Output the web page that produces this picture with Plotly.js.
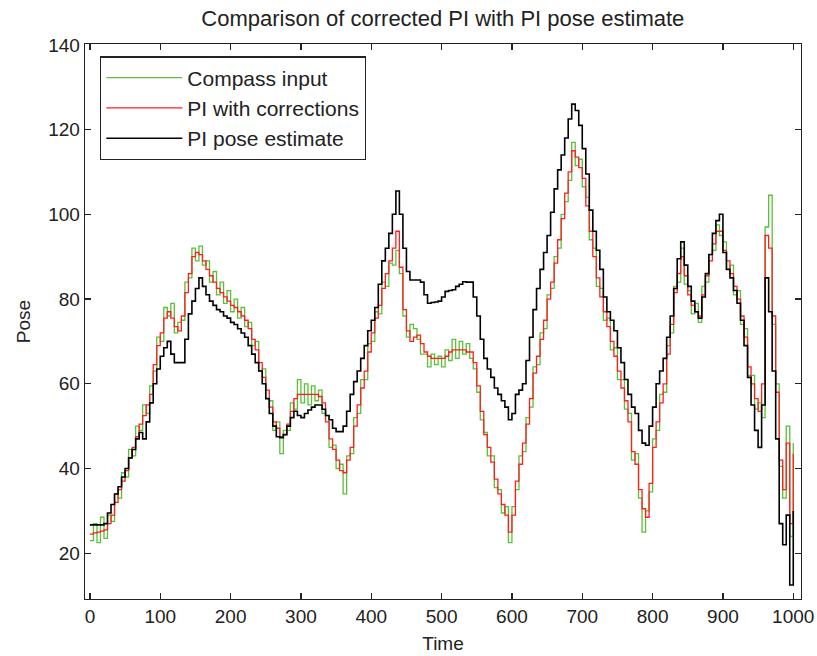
<!DOCTYPE html>
<html>
<head>
<meta charset="utf-8">
<script src="https://cdn.plot.ly/plotly-3.0.1.min.js"></script>
<style>html,body{margin:0;padding:0;background:#fff;}#chart{width:817px;height:656px;}</style>
</head>
<body>
<div id="chart"></div>
<script>
// time samples (every 5 time units)
const time = [];
for (let t = 0; t <= 1000; t += 5) time.push(t);

const compassInput = [
23,27,22.5,28.5,23.5,29,27.5,34,33,39,38,44.5,43,50,49,55,53,59.5,63,71,
70,78,76,79,72,74.5,75,84,85,92,89,92.5,88,89,84,86.5,81,84,79,82,
77,80,75.5,78,73.5,74.5,69,70,63,63.5,56.5,56,49,51,43.5,49,49,55.5,54,61,
55.5,60,55,59.5,56,58.5,53,52.5,45,45.5,40,41,34,43,43.5,52,53,61,61,69.5,
70,77,76.5,84,83,88.5,88,91.5,86,76,71,74,73,70.5,67,67,64,67,64.5,66.5,
64,68,65.5,70.5,66,70,67,69.5,66,63.5,58,51.5,48.5,43,43,35.5,35,29.5,31,22.5,
31,35,43,44,52,54.5,64,64.5,72,73,81,82.5,90,92,100,103,108,117,111.5,113,
106.5,104,94,92,83,82.5,75,75.5,68,68.5,61,61,54,53,42,43.5,33,25,30,34.5,
47,49,57.5,58,69,72,83,84,92,83.5,82,76.5,79,74.5,83,84,90.5,91.5,97.5,95,
93.5,87,88,81,82,74,73,62,62,54,55.5,52,97,104.5,74,60,40.5,33,50,24,
46
];

const piCorrected = [
24.5,24.8,25,25.2,25.5,27,29,32,35,37,39.5,42.5,45,47.5,50.5,52.5,55,57.5,64.5,69,
72,75.5,77,75.5,73.5,72.5,76,81.5,86,90,91,90.5,89,87,85.5,84,82.5,81.5,80.5,79.5,
78.5,78,77,76,75,73,70.5,68,65,61.5,58.5,54.5,51,49.5,47.5,48,50.5,53.5,56.5,57.5,
57.5,57.5,57.5,57.5,57.5,57,55.5,51,47,44.5,42,39.5,39,42,45,50,55,59,63,67.5,
72,75.5,78.5,82.5,86,89,92,96,87.5,77.5,72.5,70,71,71.5,69.5,67.5,66.5,66,66,66,
66,66.5,67.5,68,68,68,68,67.5,67.5,65,59.5,53.5,48,45,41.5,37.5,34,31.5,29,25,
29,37,41,46,50.5,56.5,62.5,66.5,70.5,75,80,84,88.5,94,99,105,110,115,113.5,111,
108.5,102,96,90,85,80.5,77,73.5,70,66.5,63,59,56,51,44,41,35,30.5,28.5,36.5,
45,51,55.5,60,67,74,81.5,86,90,85.5,81,78.5,77,76,81,85.5,89,93,96,96,
91.5,89,86,83,80,76,71,64,60,56.5,53.5,60,95,92,76,58,42,35,46,27,
43.5
];

const piPose = [
26.7,26.7,26.7,26.7,27,29.5,31.5,34,35.7,38,40,42.5,44.5,47,48.5,47,51,55.5,60,63.5,
66.5,68.5,70,67,65,65,65,70.5,76.5,79.5,82.5,85,83,81,79.5,78.5,77.5,77,76,75.5,
74.5,74,73,72,71,69,67,65,63,60,56.5,53,50,47.5,47.3,48,50,52,53.5,52.5,
52,53,53.8,54.5,55,55,54,52.5,51.5,49.5,48.7,48.7,50,53.5,57.5,60.5,63,66,69,72.5,
75,78,83.5,89,92,95.5,100,105.5,100,92,86.5,84.5,84.5,84.5,84,81,79,79.2,79.3,79.5,
80.5,81.8,82,82.2,83,83.5,84.1,84,84,80.5,76,70.5,66,63.5,61.5,59,57.5,56,54.5,51.5,
53,57.5,58.5,60,65.5,71,77.5,82.5,87,91,95,100.5,106,110.5,114,118,122.5,126,124.5,121,
115.5,109.5,101,96,91.5,87,80.5,77,75,72.5,68.5,65,61,57.5,54.5,53,49,46,45.5,50,
54.5,60,63,66,71,76,82.5,89.5,93.5,88,83,79.5,77,75.5,80.5,86,90.5,95.5,98.5,100,
91,87,85,82,79,75,69,61.5,55,49,45,55,85,77,63,47,27,22,29,12.5,
30
];

const seriesNames = ['Compass input', 'PI with corrections', 'PI pose estimate'];
const xTicks = [0,100,200,300,400,500,600,700,800,900,1000];
const yTicks = [20,40,60,80,100,120,140];

const fontFam = '"Liberation Sans", Arial, sans-serif';

const traces = [
  {x: time, y: compassInput, name: seriesNames[0], type: 'scatter', mode: 'lines',
   line: {color: '#5cbf3a', width: 1.3, shape: 'hv'}, legendgroup: 'a'},
  {x: time, y: piCorrected, name: seriesNames[1], type: 'scatter', mode: 'lines',
   line: {color: '#ff1f1f', width: 1.3, shape: 'hv'}, legendgroup: 'b'},
  {x: time, y: piPose, name: seriesNames[2], type: 'scatter', mode: 'lines',
   line: {color: '#000000', width: 1.6, shape: 'hv'}, legendgroup: 'c'}
];

const axisCommon = {
  showline: true, linecolor: '#222', linewidth: 1.3, mirror: 'ticks',
  ticks: 'inside', ticklen: 6, tickwidth: 1.2, tickcolor: '#222',
  showgrid: false, zeroline: false,
  tickfont: {family: fontFam, size: 19, color: '#222'}
};

const layout = {
  width: 817, height: 656,
  paper_bgcolor: '#fff', plot_bgcolor: '#fff',
  margin: {l: 85, r: 16, t: 44, b: 57},
  title: {text: 'Comparison of corrected PI with PI pose estimate',
          font: {family: fontFam, size: 22, color: '#222'},
          x: 0.542, xanchor: 'center', y: 0.972, yanchor: 'middle'},
  xaxis: Object.assign({}, axisCommon, {
    range: [-7, 1011], tickvals: xTicks, ticktext: xTicks.map(String),
    title: {text: 'Time', font: {family: fontFam, size: 19, color: '#222'}, standoff: 10}
  }),
  yaxis: Object.assign({}, axisCommon, {
    range: [9.2, 140.2], tickvals: yTicks, ticktext: yTicks.map(String),
    title: {text: 'Pose', font: {family: fontFam, size: 19, color: '#222'}, standoff: 12}
  }),
  showlegend: true,
  legend: {
    x: 0.021, y: 0.978, xanchor: 'left', yanchor: 'top',
    bgcolor: '#fff', bordercolor: '#222', borderwidth: 1.3,
    font: {family: fontFam, size: 21, color: '#222'},
    traceorder: 'grouped', tracegroupgap: 0, itemwidth: 76
  }
};

Plotly.newPlot('chart', traces, layout, {displayModeBar: false, staticPlot: true});
</script>
</body>
</html>
